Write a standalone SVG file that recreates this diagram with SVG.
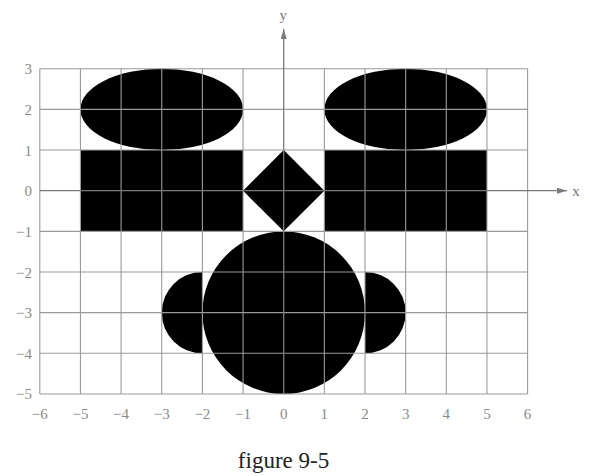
<svg xmlns="http://www.w3.org/2000/svg" width="589" height="476" viewBox="0 0 589 476">
  <defs>
    <style>
      .grid { stroke: #9a9a9a; stroke-width: 1.1; fill: none; vector-effect: non-scaling-stroke; }
      .axis { stroke: #7a7a7a; stroke-width: 1.3; fill: none; }
      .shape { fill: #000; }
      text { font-family: 'Liberation Serif', serif; }
      .tick { font-size: 15px; fill: #8a8a8a; }
      .axlabel { font-size: 15px; fill: #7a7a7a; }
      .caption { font-size: 23px; fill: #222; }
    </style>
    <marker id="arrow" viewBox="0 0 10 6" refX="10" refY="3" markerWidth="10" markerHeight="6" markerUnits="userSpaceOnUse" orient="auto">
      <path d="M0,0 L10,3 L0,6 Z" fill="#7a7a7a"/>
    </marker>
  </defs>
  <rect width="589" height="476" fill="#fff"/>

  <g id="shapes" transform="translate(283.7,190.7) scale(40.65,-40.65)">
    <ellipse id="ellipse-left" class="shape" cx="-3" cy="2" rx="2" ry="1"/>
    <ellipse id="ellipse-right" class="shape" cx="3" cy="2" rx="2" ry="1"/>
    <rect id="rect-left" class="shape" x="-5" y="-1" width="4" height="2"/>
    <rect id="rect-right" class="shape" x="1" y="-1" width="4" height="2"/>
    <polygon id="diamond" class="shape" points="0,1 1,0 0,-1 -1,0"/>
    <circle id="circle" class="shape" cx="0" cy="-3" r="2"/>
    <path id="half-left" class="shape" d="M-2,-2 A1,1 0 0 1 -2,-4 Z"/>
    <path id="half-right" class="shape" d="M2,-2 A1,1 0 0 0 2,-4 Z"/>
  </g>

  <g id="grid" transform="translate(283.7,190.7) scale(40.65,-40.65)">
    <path class="grid" d="M-6,-5 V3 M-5,-5 V3 M-4,-5 V3 M-3,-5 V3 M-2,-5 V3 M-1,-5 V3 M1,-5 V3 M2,-5 V3 M3,-5 V3 M4,-5 V3 M5,-5 V3 M6,-5 V3"/>
    <path class="grid" d="M-6,3 H6 M-6,2 H6 M-6,1 H6 M-6,-1 H6 M-6,-2 H6 M-6,-3 H6 M-6,-4 H6 M-6,-5 H6"/>
  </g>

  <g id="connectors">
    <line id="x-axis" class="axis" x1="39.8" y1="190.7" x2="567" y2="190.7" marker-end="url(#arrow)"/>
    <line id="y-axis" class="axis" x1="283.7" y1="393.95" x2="283.7" y2="29" marker-end="url(#arrow)"/>
  </g>

  <g id="axis-labels">
    <text class="axlabel" x="576" y="195.5" text-anchor="middle">x</text>
    <text class="axlabel" x="283.2" y="20" text-anchor="middle">y</text>
  </g>

  <g id="y-ticks" text-anchor="end">
    <text class="tick" x="32" y="74.2">3</text>
    <text class="tick" x="32" y="114.9">2</text>
    <text class="tick" x="32" y="155.5">1</text>
    <text class="tick" x="32" y="196.2">0</text>
    <text class="tick" x="32" y="236.8">−1</text>
    <text class="tick" x="32" y="277.5">−2</text>
    <text class="tick" x="32" y="318.1">−3</text>
    <text class="tick" x="32" y="358.8">−4</text>
    <text class="tick" x="32" y="399.4">−5</text>
  </g>

  <g id="x-ticks" text-anchor="middle">
    <text class="tick" x="39.8" y="419">−6</text>
    <text class="tick" x="80.45" y="419">−5</text>
    <text class="tick" x="121.1" y="419">−4</text>
    <text class="tick" x="161.75" y="419">−3</text>
    <text class="tick" x="202.4" y="419">−2</text>
    <text class="tick" x="243.05" y="419">−1</text>
    <text class="tick" x="283.7" y="419">0</text>
    <text class="tick" x="324.35" y="419">1</text>
    <text class="tick" x="365" y="419">2</text>
    <text class="tick" x="405.65" y="419">3</text>
    <text class="tick" x="446.3" y="419">4</text>
    <text class="tick" x="486.95" y="419">5</text>
    <text class="tick" x="527.6" y="419">6</text>
  </g>

  <g id="caption">
    <text class="caption" x="283.5" y="467.5" text-anchor="middle">figure 9-5</text>
  </g>
</svg>
